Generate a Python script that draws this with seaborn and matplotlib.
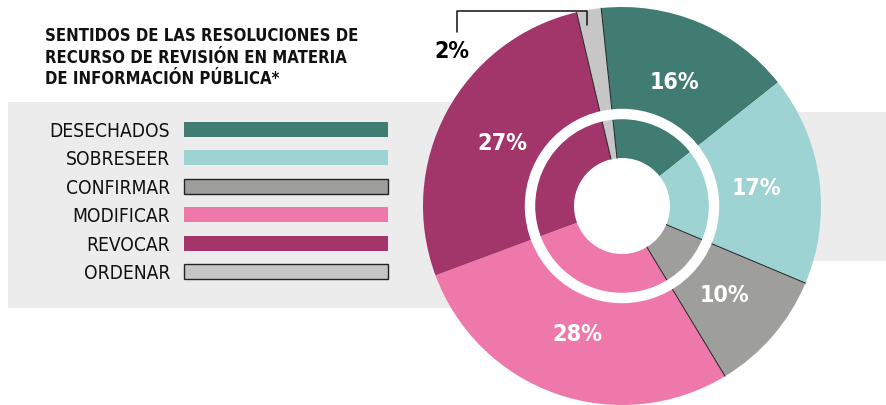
import numpy as np
import pandas as pd
import seaborn as sns
import matplotlib
matplotlib.use("Agg")
import matplotlib.pyplot as plt
from matplotlib.patches import Rectangle, Circle
from matplotlib import font_manager as fm

categories = ["DESECHADOS", "SOBRESEER", "CONFIRMAR", "MODIFICAR", "REVOCAR", "ORDENAR"]
values = [16, 17, 10, 28, 27, 2]
colors = ["#417c72", "#9dd3d3", "#9e9e9d", "#ee78aa", "#a2356a", "#c6c6c6"]
outlined = [False, False, True, False, False, True]
title = "SENTIDOS DE LAS RESOLUCIONES DE\nRECURSO DE REVISIÓN EN MATERIA\nDE INFORMACIÓN PÚBLICA*"

sns.set_theme(style="white")
FONT = ["DejaVu Sans"]
plt.rcParams["font.family"] = FONT
p = fm.findfont(fm.FontProperties(family="DejaVu Sans", stretch="condensed", weight="bold"))
STRETCH = "condensed" if "Condensed" in p else "normal"

W, H = 887, 406
fig = plt.figure(figsize=(W / 100, H / 100), dpi=100)
ax = fig.add_axes([0, 0, 1, 1])
ax.set_xlim(0, W)
ax.set_ylim(0, H)
ax.axis("off")
renderer = fig.canvas.get_renderer()

def Y(py):
    return H - py

def fit(txt, target_px):
    bb = txt.get_window_extent(renderer)
    txt.set_fontsize(txt.get_fontsize() * target_px / bb.width)

bg = "#ececec"
ax.add_patch(Rectangle((8, Y(309)), 500, 206, facecolor=bg, edgecolor="none", zorder=0))
ax.add_patch(Rectangle((700, Y(262)), 200, 149, facecolor=bg, edgecolor="none", zorder=0))

cx, cy, R, r_in = 622, Y(207), 199, 48
df = pd.DataFrame({"cat": categories, "val": values, "color": colors})
wedges, _, autotexts = ax.pie(
    df["val"], colors=df["color"], startangle=96, counterclock=False,
    center=(cx, cy), radius=R, autopct="%d%%", pctdistance=0.68,
    wedgeprops=dict(width=R - r_in, linewidth=0),
    textprops=dict(color="white", fontsize=20, fontweight="bold", family=FONT,
                   fontstretch=STRETCH),
    frame=True,
)
ax.set_xlim(0, W)
ax.set_ylim(0, H)
ax.set_aspect("equal")
ax.axis("off")

for t in autotexts:
    fit(t, 50)

for w, o in zip(wedges, outlined):
    if o:
        for th in (w.theta1, w.theta2):
            t = np.deg2rad(th)
            ax.plot([cx + r_in * np.cos(t), cx + R * np.cos(t)],
                    [cy + r_in * np.sin(t), cy + R * np.sin(t)],
                    color="#222222", lw=0.7, zorder=3)

ax.add_patch(Circle((cx, cy), 92, fill=False, edgecolor="white", lw=7.5, zorder=4))

autotexts[-1].set_visible(False)
ax.plot([587, 587, 457, 457], [Y(26), Y(12), Y(12), Y(33)], color="#222222", lw=1.2, zorder=5)
t2 = ax.text(452, Y(51), f"{values[-1]}%", ha="center", va="center", fontsize=20,
             fontweight="bold", color="black", family=FONT, fontstretch=STRETCH)
fit(t2, 35)

lines = title.split("\n")
tt = ax.text(45, Y(41), lines[0], ha="left", va="baseline", fontsize=14.5,
             fontweight="bold", color="#111111", family=FONT, fontstretch=STRETCH)
fit(tt, 312)
fs = tt.get_fontsize()
for i, ln in enumerate(lines[1:], start=1):
    ax.text(45, Y(41 + 21.7 * i), ln, ha="left", va="baseline", fontsize=fs,
            fontweight="bold", color="#111111", family=FONT, fontstretch=STRETCH)

row_y = [130, 158.5, 187, 215.5, 244, 272.5]
lt = []
for lab, col, o, py in zip(categories, colors, outlined, row_y):
    ax.add_patch(Rectangle((184, Y(py) - 7.5), 204, 15, facecolor=col,
                           edgecolor="#222222" if o else "none", lw=1.0, zorder=2))
    lt.append(ax.text(170, Y(py) - 7, lab, ha="right", va="baseline", fontsize=14.5,
                      color="#111111", family=FONT, fontstretch=STRETCH))
fit(lt[0], 120)
for t in lt[1:]:
    t.set_fontsize(lt[0].get_fontsize())

fig.savefig("out.png", dpi=100)
